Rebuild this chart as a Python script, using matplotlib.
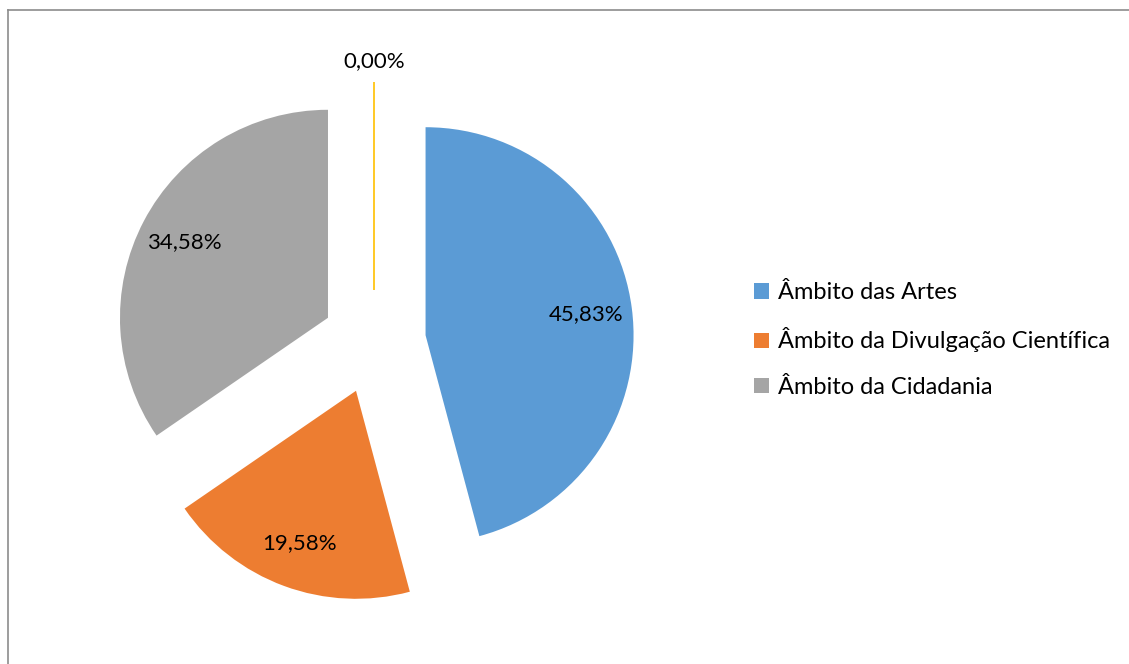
import numpy as np
import matplotlib.pyplot as plt
from matplotlib.lines import Line2D
from matplotlib.patches import Patch

plt.rcParams['font.family'] = ['Lato', 'DejaVu Sans']

categories = ['Âmbito das Artes', 'Âmbito da Divulgação Científica',
              'Âmbito da Cidadania', '']
shares = [45.83, 19.58, 34.58, 0.00]
colors = ['#5B9BD5', '#ED7D31', '#A5A5A5', '#FFC000']

W, H = 1129, 664
fig = plt.figure(figsize=(W / 100, H / 100), dpi=100)
ax = fig.add_axes([0, 0, 1, 1])

# pie centre in pixels, and radius in pixels
r_px = 208.0
cx, cy = 374.0, 342.0

wedges, texts, autotexts = ax.pie(
    shares, colors=colors, startangle=90, counterclock=False,
    explode=[0.25] * len(shares), radius=1.0,
    autopct=lambda p: ('%.2f%%' % p).replace('.', ','),
    pctdistance=0.78, textprops={'fontsize': 16, 'color': 'black'},
    wedgeprops={'linewidth': 0})

# zero share shows up as a thin line, label goes outside
for w, t, v in zip(wedges, autotexts, shares):
    if v == 0:
        w.set_edgecolor(colors[3])
        w.set_linewidth(1.2)
        ang = np.deg2rad((w.theta1 + w.theta2) / 2)
        cx0, cy0 = w.center
        t.set_position((cx0 + 1.10 * np.cos(ang), cy0 + 1.10 * np.sin(ang)))

ax.set_xlim(-cx / r_px, (W - cx) / r_px)
ax.set_ylim(-(H - cy) / r_px, cy / r_px)
ax.set_aspect('auto')
ax.axis('off')

handles = [Patch(facecolor=c, edgecolor='none') for c in colors[:3]]
fig.legend(handles, categories[:3], loc='center left',
           bbox_to_anchor=(733 / W, 1 - 340 / H), frameon=False,
           fontsize=17, handlelength=0.62, handleheight=0.62,
           handletextpad=0.4, labelspacing=1.02)

# chart area border
fig.add_artist(Line2D([8 / W, 1.01], [1 - 10 / H, 1 - 10 / H],
                      transform=fig.transFigure, color='#8C8C8C', lw=1.2))
fig.add_artist(Line2D([8 / W, 8 / W], [-0.01, 1 - 10 / H],
                      transform=fig.transFigure, color='#8C8C8C', lw=1.2))

fig.savefig('out.png', dpi=100)
